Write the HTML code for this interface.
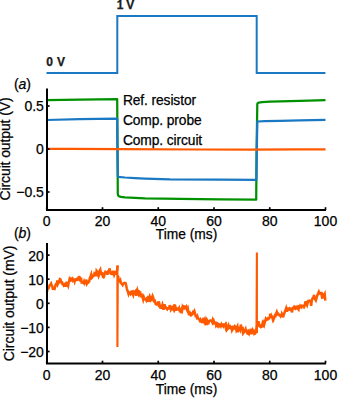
<!DOCTYPE html>
<html><head><meta charset="utf-8"><style>
html,body{margin:0;padding:0;background:#fff;width:340px;height:399px;overflow:hidden}
body{position:relative;font-family:"Liberation Sans",sans-serif}
</style></head><body>
<svg width="340" height="399" viewBox="0 0 340 399" style="position:absolute;left:0;top:0">
<polyline fill="none" stroke="#1b79c3" stroke-width="2.0" stroke-linejoin="miter" points="46.5,72.9 117.3,72.9 117.3,16 256.7,16 256.7,72.9 325.4,72.9"/>
<text x="46.3" y="65.7" font-size="12" font-weight="bold" letter-spacing="0.4" font-family="Liberation Sans, sans-serif" stroke="#000" stroke-width="0.25" fill="#222">0 V</text>
<text x="116.7" y="8.7" font-size="12" font-weight="bold" letter-spacing="-0.2" font-family="Liberation Sans, sans-serif" stroke="#000" stroke-width="0.25" fill="#222">1 V</text>
<text x="13.9" y="88.5" font-size="14" font-family="Liberation Sans, sans-serif" stroke="#000" stroke-width="0.25" fill="#000">(<tspan font-style="italic">a</tspan>)</text>
<text x="13.9" y="238" font-size="14" font-family="Liberation Sans, sans-serif" stroke="#000" stroke-width="0.25" fill="#000">(<tspan font-style="italic">b</tspan>)</text>
<polyline fill="none" stroke="#009100" stroke-width="2.25" stroke-linejoin="round" points="46.50,100.10 80.00,99.60 117.20,99.20 117.50,150.00 117.80,194.00 118.30,195.60 119.20,196.40 121.00,196.90 125.00,197.40 135.00,197.80 145.00,198.30 180.00,198.90 220.00,199.40 256.20,199.70 256.60,150.00 257.30,104.00 257.80,103.00 258.80,102.60 262.00,102.20 270.00,101.70 280.00,101.40 300.00,100.80 325.50,100.20"/>
<polyline fill="none" stroke="#1b79c3" stroke-width="2.25" stroke-linejoin="round" points="46.50,120.00 80.00,119.20 117.20,118.60 117.50,150.00 117.90,176.80 125.00,177.50 135.00,178.10 145.00,178.60 170.00,179.40 220.00,179.70 256.40,179.90 256.80,150.00 257.30,121.50 265.00,121.20 280.00,120.90 300.00,120.40 325.50,119.90"/>
<polyline fill="none" stroke="#ff5a00" stroke-width="2.25" stroke-linejoin="round" points="46.50,148.80 70.00,148.80 120.00,149.10 200.00,149.50 250.00,149.60 300.00,149.40 325.50,149.30"/>
<polyline fill="none" stroke="#ff5a00" stroke-width="2.5" stroke-linejoin="miter" points="46.90,291.80 47.50,289.49 48.10,288.00 48.70,287.99 49.30,285.97 49.90,285.00 50.50,284.67 51.07,283.64 51.63,285.24 52.20,286.04 52.80,288.72 53.40,288.53 54.00,288.75 54.60,288.95 55.20,286.22 55.80,284.36 56.30,284.58 56.80,283.83 57.30,280.45 57.80,284.06 58.30,283.09 58.80,282.66 59.30,281.45 59.88,279.08 60.45,279.34 61.02,281.05 61.60,282.81 62.20,282.61 62.80,284.40 63.40,284.38 64.00,285.83 64.60,285.55 65.18,284.30 65.76,285.60 66.34,285.52 66.92,283.61 67.50,284.45 68.10,285.76 68.70,282.47 69.30,280.14 69.80,281.89 70.30,278.82 70.80,278.46 71.30,278.93 71.80,279.14 72.30,280.16 72.80,278.99 73.40,280.25 74.00,280.01 74.60,281.59 75.20,279.27 75.80,279.19 76.40,279.23 76.90,281.03 77.40,277.64 77.90,279.17 78.40,279.31 78.90,276.09 79.40,278.40 79.90,278.17 80.47,281.65 81.03,277.72 81.60,282.33 82.23,282.07 82.87,282.66 83.50,283.08 84.10,281.38 84.70,283.09 85.30,281.80 85.90,281.51 86.47,279.56 87.03,283.62 87.60,282.68 88.10,282.67 88.60,282.04 89.10,281.75 89.60,278.94 90.10,277.47 90.60,276.20 91.20,274.48 91.80,277.91 92.40,277.29 92.97,275.66 93.53,275.26 94.10,275.33 94.60,273.05 95.10,273.26 95.60,273.70 96.10,276.36 96.60,270.78 97.10,271.44 97.60,273.52 98.12,273.97 98.65,275.97 99.17,274.65 99.70,270.76 100.22,269.84 100.75,274.51 101.27,272.83 101.80,274.07 102.40,273.75 103.00,277.00 103.58,277.31 104.15,276.26 104.72,273.49 105.30,271.99 105.87,272.50 106.43,272.93 107.00,272.36 107.50,274.61 108.00,272.75 108.50,272.29 109.00,272.04 109.50,268.36 110.00,270.57 110.60,273.52 111.20,273.89 111.80,274.11 112.40,274.16 112.98,270.74 113.55,272.62 114.12,274.73 114.70,273.12 115.30,271.03 115.90,274.73 116.47,271.69 117.03,270.87 117.60,266.50 117.40,265.60"/>
<polyline fill="none" stroke="#ff5a00" stroke-width="2.5" stroke-linejoin="miter" points="117.80,275.60 118.30,277.14 118.80,281.53 119.30,280.17 119.80,281.14 120.30,280.30 120.87,282.61 121.43,283.45 122.00,284.11 122.60,284.99 123.20,283.67 123.80,283.46 124.40,282.84 125.00,283.07 125.60,283.16 126.20,285.44 126.80,288.54 127.40,290.54 127.98,291.95 128.56,294.03 129.14,292.54 129.72,292.51 130.30,292.22 130.88,293.85 131.45,293.14 132.03,290.48 132.60,293.74 133.20,295.09 133.80,292.09 134.40,292.67 135.00,291.59 135.60,290.96 136.20,295.79 136.80,292.53 137.40,290.10 137.97,291.85 138.55,290.20 139.12,294.41 139.70,293.66 140.27,293.11 140.85,297.22 141.43,293.56 142.00,296.61 142.60,297.28 143.20,299.60 143.80,297.29 144.40,299.15 145.00,299.30 145.60,299.18 146.20,300.26 146.80,298.31 147.38,297.67 147.95,299.61 148.53,301.89 149.10,298.25 149.70,296.28 150.30,297.63 150.90,300.14 151.50,299.48 152.07,297.84 152.63,295.94 153.20,297.23 153.80,301.15 154.40,301.72 155.00,301.27 155.60,303.89 156.20,304.42 156.80,304.40 157.40,303.57 157.98,303.21 158.56,301.43 159.14,307.02 159.72,305.20 160.30,307.58 160.87,307.49 161.43,307.69 162.00,306.45 162.50,304.61 163.00,306.20 163.50,309.70 164.00,308.13 164.50,304.19 165.00,306.72 165.50,306.87 166.00,307.48 166.50,308.70 167.00,309.26 167.50,308.17 168.00,308.33 168.57,307.84 169.15,309.37 169.73,305.22 170.30,307.08 170.88,309.56 171.45,308.58 172.03,307.55 172.60,308.55 173.10,307.69 173.60,308.95 174.10,306.03 174.60,304.48 175.10,308.92 175.60,308.01 176.18,310.82 176.75,308.35 177.32,308.88 177.90,308.84 178.50,309.35 179.10,308.13 179.70,310.78 180.30,310.33 180.88,311.36 181.46,309.58 182.04,310.55 182.62,306.88 183.20,307.98 183.70,308.31 184.20,306.41 184.70,306.61 185.20,307.64 185.70,307.24 186.20,306.63 186.77,309.59 187.35,310.71 187.93,309.08 188.50,312.37 189.10,315.36 189.70,311.36 190.30,314.54 190.90,315.37 191.47,315.10 192.05,313.61 192.62,313.71 193.20,311.99 193.80,312.50 194.40,311.25 195.00,313.25 195.60,315.98 196.20,315.92 196.80,317.35 197.38,316.33 197.95,318.41 198.53,318.74 199.10,319.24 199.70,320.46 200.30,319.62 200.90,321.51 201.50,321.88 202.07,320.84 202.65,323.03 203.23,319.06 203.80,318.91 204.40,321.48 205.00,319.72 205.60,322.18 206.20,320.79 206.77,325.16 207.35,321.29 207.93,322.71 208.50,323.03 209.10,321.00 209.70,320.77 210.30,320.46 210.90,320.82 211.47,320.76 212.03,321.90 212.60,320.16 213.20,322.46 213.80,321.03 214.40,322.90 215.00,323.49 215.60,321.63 216.20,325.51 216.80,324.69 217.40,325.61 217.98,323.65 218.56,324.02 219.14,325.94 219.72,324.97 220.30,324.60 220.88,325.95 221.46,324.48 222.04,325.76 222.62,325.41 223.20,326.10 223.70,323.59 224.20,325.77 224.70,325.78 225.20,324.85 225.70,327.21 226.20,325.89 226.78,329.81 227.36,329.06 227.94,327.23 228.52,325.70 229.10,328.01 229.70,327.58 230.30,326.72 230.90,327.87 231.50,327.49 232.05,330.42 232.60,329.48 233.20,328.64 233.80,325.66 234.40,329.41 235.00,326.45 235.60,326.97 236.20,329.52 236.80,327.73 237.38,326.56 237.95,332.31 238.53,326.51 239.10,328.75 239.68,328.96 240.26,330.06 240.84,324.53 241.42,327.43 242.00,328.71 242.60,326.98 243.20,333.24 243.80,332.46 244.40,332.19 245.00,330.60 245.60,329.28 246.20,332.08 246.77,329.78 247.33,333.45 247.90,333.72 248.50,331.91 249.10,333.32 249.70,331.35 250.30,331.72 250.88,328.77 251.46,334.28 252.04,331.93 252.62,329.81 253.20,330.76 253.80,330.76 254.40,334.01 255.00,333.77 255.60,333.00 256.25,330.97 256.90,333.00"/>
<polyline fill="none" stroke="#ff5a00" stroke-width="2.5" stroke-linejoin="miter" points="256.50,330.00 257.00,326.29 257.50,325.96 258.00,325.47 258.50,321.20 259.10,325.12 259.70,326.03 260.30,325.68 260.90,327.08 261.47,326.96 262.05,325.39 262.62,323.04 263.20,324.48 263.70,323.03 264.20,324.56 264.70,322.73 265.20,321.11 265.70,319.22 266.20,320.19 266.80,319.72 267.40,318.61 268.00,319.21 268.57,318.51 269.13,318.47 269.70,316.93 270.28,313.68 270.86,317.55 271.44,315.74 272.02,316.96 272.60,318.82 273.20,316.00 273.80,318.90 274.40,317.35 275.00,315.44 275.60,315.84 276.20,313.49 276.80,312.00 277.40,313.90 277.97,313.60 278.55,314.84 279.12,314.71 279.70,315.13 280.27,315.91 280.85,313.94 281.43,317.05 282.00,313.88 282.60,315.05 283.20,317.31 283.80,314.27 284.40,313.21 285.00,310.99 285.60,309.91 286.18,308.25 286.75,310.57 287.32,310.64 287.90,308.66 288.50,308.95 289.10,309.39 289.70,308.35 290.30,308.82 290.90,309.33 291.50,310.72 292.10,312.36 292.68,307.90 293.25,307.80 293.82,308.00 294.40,306.47 295.00,306.83 295.60,308.52 296.20,307.96 296.80,307.13 297.37,308.58 297.93,308.78 298.50,309.49 299.10,305.20 299.70,308.19 300.30,306.02 300.90,306.75 301.40,307.25 301.90,305.75 302.40,305.93 302.97,305.72 303.53,305.74 304.10,306.94 304.70,305.73 305.30,302.34 305.90,302.18 306.50,303.99 307.07,305.19 307.65,303.22 308.23,301.10 308.80,301.09 309.40,300.68 310.00,300.81 310.60,301.56 311.18,305.78 311.75,300.48 312.32,298.71 312.90,297.78 313.50,297.10 314.10,294.82 314.70,299.19 315.30,299.41 315.88,300.42 316.45,298.52 317.03,296.28 317.60,294.69 318.20,293.25 318.80,291.88 319.40,293.43 320.00,292.87 320.60,293.27 321.20,293.19 321.80,296.09 322.38,298.60 322.95,294.35 323.53,294.86 324.10,295.62 324.70,294.29 325.30,300.60"/>
<path d="M117.4,265.6 L117.4,346.9 L117.8,275.6" fill="none" stroke="#ff5a00" stroke-width="2.1" stroke-linejoin="miter"/>
<path d="M256.9,333 L256.9,252.5 L256.5,330" fill="none" stroke="#ff5a00" stroke-width="2.1" stroke-linejoin="miter"/>
<path d="M47.0,88.5 V210 H326" fill="none" stroke="#000" stroke-width="2"/>
<line x1="47.0" y1="106.0" x2="49.6" y2="106.0" stroke="#000" stroke-width="1.7"/>
<text x="43.9" y="111.30" font-size="14" text-anchor="end" font-family="Liberation Sans, sans-serif" stroke="#000" stroke-width="0.25">0.5</text>
<line x1="47.0" y1="149.0" x2="49.6" y2="149.0" stroke="#000" stroke-width="1.7"/>
<text x="43.9" y="154.30" font-size="14" text-anchor="end" font-family="Liberation Sans, sans-serif" stroke="#000" stroke-width="0.25">0</text>
<line x1="47.0" y1="192.0" x2="49.6" y2="192.0" stroke="#000" stroke-width="1.7"/>
<text x="43.9" y="197.30" font-size="14" text-anchor="end" font-family="Liberation Sans, sans-serif" stroke="#000" stroke-width="0.25">−0.5</text>
<line x1="46.75" y1="210" x2="46.75" y2="207.2" stroke="#000" stroke-width="1.7"/>
<text x="46.75" y="225.7" font-size="14" text-anchor="middle" font-family="Liberation Sans, sans-serif" stroke="#000" stroke-width="0.25">0</text>
<line x1="102.50" y1="210" x2="102.50" y2="207.2" stroke="#000" stroke-width="1.7"/>
<text x="102.50" y="225.7" font-size="14" text-anchor="middle" font-family="Liberation Sans, sans-serif" stroke="#000" stroke-width="0.25">20</text>
<line x1="158.25" y1="210" x2="158.25" y2="207.2" stroke="#000" stroke-width="1.7"/>
<text x="158.25" y="225.7" font-size="14" text-anchor="middle" font-family="Liberation Sans, sans-serif" stroke="#000" stroke-width="0.25">40</text>
<line x1="214.00" y1="210" x2="214.00" y2="207.2" stroke="#000" stroke-width="1.7"/>
<text x="214.00" y="225.7" font-size="14" text-anchor="middle" font-family="Liberation Sans, sans-serif" stroke="#000" stroke-width="0.25">60</text>
<line x1="269.75" y1="210" x2="269.75" y2="207.2" stroke="#000" stroke-width="1.7"/>
<text x="269.75" y="225.7" font-size="14" text-anchor="middle" font-family="Liberation Sans, sans-serif" stroke="#000" stroke-width="0.25">80</text>
<line x1="325.50" y1="210" x2="325.50" y2="207.2" stroke="#000" stroke-width="1.7"/>
<text x="325.50" y="225.7" font-size="14" text-anchor="middle" font-family="Liberation Sans, sans-serif" stroke="#000" stroke-width="0.25">100</text>
<text x="186.5" y="239.3" font-size="13.8" text-anchor="middle" font-family="Liberation Sans, sans-serif" stroke="#000" stroke-width="0.25">Time (ms)</text>
<text transform="translate(9.7,149.0) rotate(-90)" x="0" y="0" font-size="14" letter-spacing="-0.12" text-anchor="middle" font-family="Liberation Sans, sans-serif" stroke="#000" stroke-width="0.25">Circuit output (V)</text>
<text x="122.9" y="105.0" font-size="13.8" letter-spacing="-0.1" font-family="Liberation Sans, sans-serif" stroke="#000" stroke-width="0.25">Ref. resistor</text>
<text x="122.9" y="125.0" font-size="13.8" letter-spacing="-0.1" font-family="Liberation Sans, sans-serif" stroke="#000" stroke-width="0.25">Comp. probe</text>
<text x="122.9" y="145.0" font-size="13.8" letter-spacing="-0.1" font-family="Liberation Sans, sans-serif" stroke="#000" stroke-width="0.25">Comp. circuit</text>
<path d="M47.0,243.1 V363.5 H326" fill="none" stroke="#000" stroke-width="2"/>
<line x1="47.0" y1="255.10" x2="49.6" y2="255.10" stroke="#000" stroke-width="1.7"/>
<text x="43.9" y="260.50" font-size="14" text-anchor="end" font-family="Liberation Sans, sans-serif" stroke="#000" stroke-width="0.25">20</text>
<line x1="47.0" y1="279.20" x2="49.6" y2="279.20" stroke="#000" stroke-width="1.7"/>
<text x="43.9" y="284.60" font-size="14" text-anchor="end" font-family="Liberation Sans, sans-serif" stroke="#000" stroke-width="0.25">10</text>
<line x1="47.0" y1="303.30" x2="49.6" y2="303.30" stroke="#000" stroke-width="1.7"/>
<text x="43.9" y="308.70" font-size="14" text-anchor="end" font-family="Liberation Sans, sans-serif" stroke="#000" stroke-width="0.25">0</text>
<line x1="47.0" y1="327.40" x2="49.6" y2="327.40" stroke="#000" stroke-width="1.7"/>
<text x="43.9" y="332.80" font-size="14" text-anchor="end" font-family="Liberation Sans, sans-serif" stroke="#000" stroke-width="0.25">−10</text>
<line x1="47.0" y1="351.50" x2="49.6" y2="351.50" stroke="#000" stroke-width="1.7"/>
<text x="43.9" y="356.90" font-size="14" text-anchor="end" font-family="Liberation Sans, sans-serif" stroke="#000" stroke-width="0.25">−20</text>
<line x1="46.75" y1="363.5" x2="46.75" y2="360.7" stroke="#000" stroke-width="1.7"/>
<text x="46.75" y="380.2" font-size="14" text-anchor="middle" font-family="Liberation Sans, sans-serif" stroke="#000" stroke-width="0.25">0</text>
<line x1="102.50" y1="363.5" x2="102.50" y2="360.7" stroke="#000" stroke-width="1.7"/>
<text x="102.50" y="380.2" font-size="14" text-anchor="middle" font-family="Liberation Sans, sans-serif" stroke="#000" stroke-width="0.25">20</text>
<line x1="158.25" y1="363.5" x2="158.25" y2="360.7" stroke="#000" stroke-width="1.7"/>
<text x="158.25" y="380.2" font-size="14" text-anchor="middle" font-family="Liberation Sans, sans-serif" stroke="#000" stroke-width="0.25">40</text>
<line x1="214.00" y1="363.5" x2="214.00" y2="360.7" stroke="#000" stroke-width="1.7"/>
<text x="214.00" y="380.2" font-size="14" text-anchor="middle" font-family="Liberation Sans, sans-serif" stroke="#000" stroke-width="0.25">60</text>
<line x1="269.75" y1="363.5" x2="269.75" y2="360.7" stroke="#000" stroke-width="1.7"/>
<text x="269.75" y="380.2" font-size="14" text-anchor="middle" font-family="Liberation Sans, sans-serif" stroke="#000" stroke-width="0.25">80</text>
<line x1="325.50" y1="363.5" x2="325.50" y2="360.7" stroke="#000" stroke-width="1.7"/>
<text x="325.50" y="380.2" font-size="14" text-anchor="middle" font-family="Liberation Sans, sans-serif" stroke="#000" stroke-width="0.25">100</text>
<text x="186.5" y="393.7" font-size="13.8" text-anchor="middle" font-family="Liberation Sans, sans-serif" stroke="#000" stroke-width="0.25">Time (ms)</text>
<text transform="translate(13.6,303.4) rotate(-90)" x="0" y="0" font-size="14" letter-spacing="-0.05" text-anchor="middle" font-family="Liberation Sans, sans-serif" stroke="#000" stroke-width="0.25">Circuit output (mV)</text>
</svg>
</body></html>
